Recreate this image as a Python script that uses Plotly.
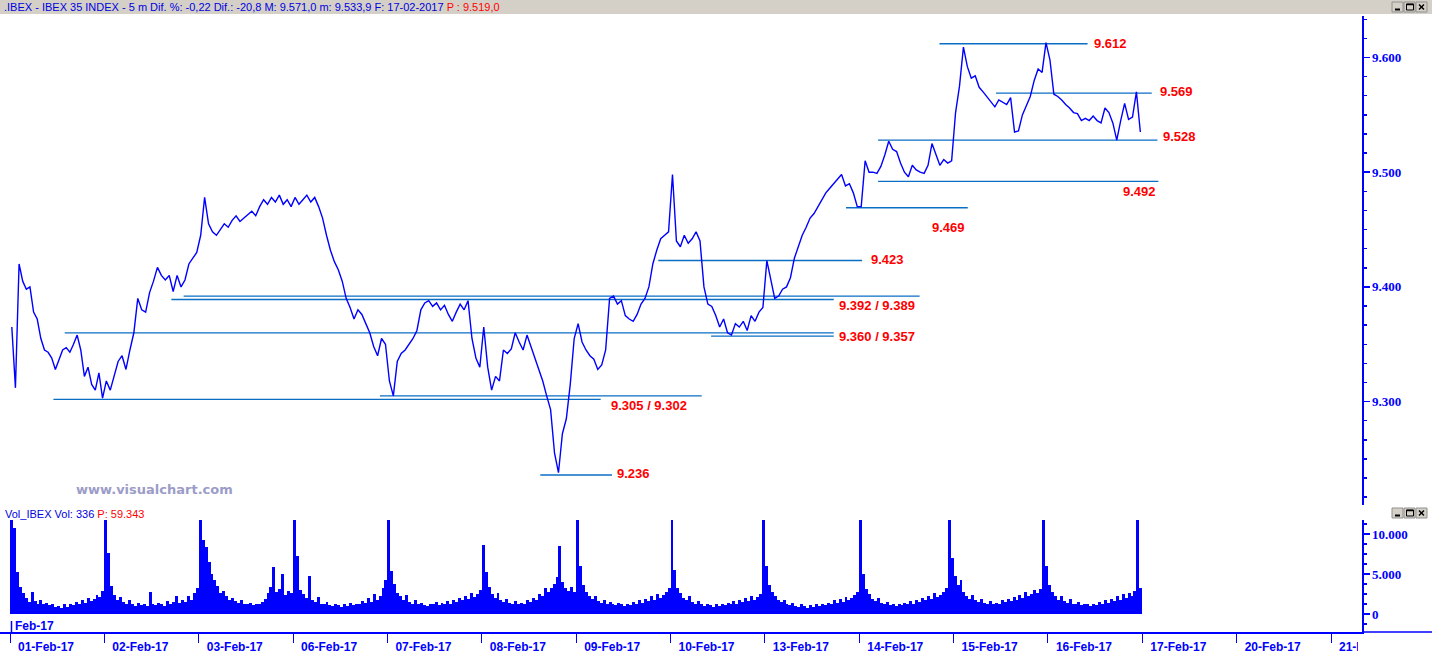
import plotly.graph_objects as go

W, H = 1432, 652

# ---------------- data ----------------
day_labels = ["01-Feb-17", "02-Feb-17", "03-Feb-17", "06-Feb-17", "07-Feb-17", "08-Feb-17",
              "09-Feb-17", "10-Feb-17", "13-Feb-17", "14-Feb-17", "15-Feb-17", "16-Feb-17",
              "17-Feb-17", "20-Feb-17", "21-Feb-17"]

price_01feb = [9.365, 9.312, 9.420, 9.405, 9.398, 9.400, 9.378, 9.372, 9.355, 9.345, 9.343, 9.338, 9.328,
               9.337, 9.345, 9.347, 9.343, 9.350, 9.358, 9.345, 9.322, 9.330, 9.315, 9.310, 9.325, 9.303]
price_02feb = [9.318, 9.310, 9.322, 9.335, 9.340, 9.328, 9.345, 9.360, 9.390, 9.380, 9.378, 9.395,
               9.405, 9.417, 9.410, 9.406, 9.410, 9.396, 9.410, 9.400, 9.406, 9.420, 9.425, 9.430]
price_03feb = [9.445, 9.478, 9.455, 9.448, 9.445, 9.450, 9.455, 9.452, 9.458, 9.462, 9.457, 9.460,
               9.463, 9.466, 9.462, 9.470, 9.476, 9.472, 9.478, 9.474, 9.480, 9.472, 9.476, 9.470]
price_06feb = [9.478, 9.472, 9.476, 9.480, 9.474, 9.478, 9.470, 9.460, 9.445, 9.432, 9.422, 9.415,
               9.405, 9.390, 9.382, 9.372, 9.380, 9.376, 9.368, 9.360, 9.348, 9.340, 9.355, 9.350]
price_07feb = [9.318, 9.305, 9.335, 9.342, 9.345, 9.350, 9.355, 9.362, 9.380, 9.386, 9.388, 9.383,
               9.386, 9.380, 9.384, 9.376, 9.370, 9.378, 9.385, 9.380, 9.388, 9.355, 9.338, 9.330]
price_08feb = [9.365, 9.330, 9.310, 9.322, 9.318, 9.345, 9.342, 9.346, 9.360, 9.352, 9.345, 9.358,
               9.348, 9.338, 9.328, 9.318, 9.305, 9.293, 9.255, 9.238, 9.272, 9.285, 9.315, 9.355]
price_09feb = [9.368, 9.352, 9.345, 9.340, 9.337, 9.328, 9.332, 9.345, 9.390, 9.392, 9.385, 9.388,
               9.375, 9.372, 9.370, 9.376, 9.385, 9.390, 9.400, 9.420, 9.432, 9.442, 9.445, 9.448]
price_10feb = [9.498, 9.440, 9.435, 9.445, 9.438, 9.442, 9.448, 9.440, 9.400, 9.385, 9.383, 9.375,
               9.365, 9.372, 9.360, 9.358, 9.368, 9.365, 9.370, 9.362, 9.375, 9.370, 9.378, 9.382]
price_13feb = [9.423, 9.405, 9.390, 9.392, 9.398, 9.400, 9.408, 9.425, 9.435, 9.445, 9.452, 9.460,
               9.464, 9.470, 9.476, 9.482, 9.486, 9.490, 9.494, 9.498, 9.488, 9.490, 9.482, 9.470]
price_14feb = [9.470, 9.510, 9.500, 9.500, 9.499, 9.505, 9.515, 9.527, 9.520, 9.518, 9.508, 9.500,
               9.496, 9.506, 9.502, 9.500, 9.499, 9.506, 9.525, 9.515, 9.506, 9.511, 9.508, 9.510]
price_15feb = [9.552, 9.575, 9.609, 9.592, 9.582, 9.584, 9.574, 9.570, 9.566, 9.562, 9.557, 9.563,
               9.561, 9.559, 9.565, 9.535, 9.536, 9.550, 9.558, 9.566, 9.580, 9.590, 9.587, 9.613]
price_16feb = [9.598, 9.568, 9.566, 9.563, 9.559, 9.556, 9.552, 9.551, 9.545, 9.547, 9.545, 9.549,
               9.545, 9.543, 9.556, 9.552, 9.543, 9.528, 9.545, 9.560, 9.546, 9.548, 9.570, 9.535]

vol_01feb = [12500, 10700, 5300, 3400, 2600, 2000, 1500, 2700, 1600, 1300, 1800, 1200, 1400, 1100, 1300, 900,
             1000, 800, 1200, 900, 1300, 1100, 1500, 1200, 1700, 1400, 2000, 1600, 1900, 2400, 2100, 2900]
vol_02feb = [12500, 7600, 3500, 2400, 1800, 2100, 1500, 1300, 1700, 1200, 1000, 1400, 1100, 1300, 1000, 2800,
             1200, 1100, 1400, 1300, 1000, 1600, 1200, 1500, 2300, 1400, 1800, 1500, 2200, 1700, 2600, 3200]
vol_03feb = [12500, 9200, 8400, 6500, 5000, 4300, 3500, 2600, 2900, 2200, 1800, 2000, 1600, 1400, 1700, 1300,
             1200, 1400, 1100, 1300, 1200, 1500, 1900, 2600, 3400, 5900, 2800, 3100, 5000, 2400, 2900, 2600]
vol_06feb = [12500, 7300, 3000, 2500, 2000, 4800, 1800, 1500, 2100, 1300, 1200, 1500, 1100, 1000, 1300, 1100,
             900, 1200, 1000, 1400, 1100, 1300, 1200, 1600, 1400, 2000, 1500, 2500, 1800, 2200, 3300, 4200]
vol_07feb = [12500, 5400, 3800, 2600, 2200, 1800, 2400, 1500, 1300, 1700, 1200, 1400, 1100, 1000, 1300, 1200,
             1500, 1100, 1400, 1300, 1600, 1200, 1800, 1500, 2000, 1700, 2300, 1900, 2600, 2100, 2500, 3000]
vol_08feb = [8600, 5200, 3400, 2500, 2000, 2600, 1700, 1500, 1900, 1400, 1300, 1600, 1200, 1400, 1300, 1700,
             1500, 2000, 1800, 2500, 2200, 3200, 2800, 3300, 3800, 4600, 8500, 4000, 3200, 2900, 3400, 2700]
vol_09feb = [12500, 6000, 3600, 2800, 2200, 1900, 2300, 1600, 1400, 1800, 1300, 1500, 1200, 1100, 1400, 1200,
             1000, 1300, 1100, 1500, 1300, 1700, 1400, 1900, 1600, 2200, 1800, 2500, 2000, 2400, 2800, 3300]
vol_10feb = [12500, 5500, 3200, 2600, 2000, 1700, 2200, 1500, 1300, 1600, 1200, 1000, 1300, 1100, 900, 1200,
             1000, 1300, 1100, 1400, 1200, 1600, 1300, 1800, 1500, 2000, 1600, 2200, 1800, 2100, 2500, 12500]
vol_13feb = [6000, 3600, 2700, 2200, 1800, 1500, 1800, 1300, 1100, 1400, 1000, 900, 1200, 1000, 800, 1100,
             900, 1200, 1000, 1300, 1100, 1400, 1200, 1700, 1400, 1900, 1500, 2100, 1700, 2000, 2400, 2800]
vol_14feb = [12500, 5000, 3100, 2500, 1900, 1600, 2000, 1400, 1200, 1500, 1100, 1300, 1000, 1200, 1100, 1400,
             1200, 1600, 1300, 1800, 1500, 2000, 1700, 2300, 1900, 2600, 2100, 2400, 2800, 3200, 12500, 7000]
vol_15feb = [4800, 3600, 4200, 2800, 2300, 1900, 2400, 1700, 1500, 1900, 1400, 1300, 1600, 1200, 1400, 1300,
             1700, 1500, 1900, 1600, 2100, 1800, 2400, 2000, 2700, 2200, 2500, 3000, 2600, 3100, 12500, 6000]
vol_16feb = [3600, 2800, 2200, 1800, 2300, 1600, 1400, 1900, 1300, 1200, 1500, 1100, 1300, 1200, 1000, 1300,
             1100, 1500, 1200, 1700, 1400, 1900, 1600, 2200, 1800, 2500, 2000, 2600, 2300, 2900, 12500, 3200]

price_days = [price_01feb, price_02feb, price_03feb, price_06feb, price_07feb, price_08feb,
              price_09feb, price_10feb, price_13feb, price_14feb, price_15feb, price_16feb]
vol_days = [vol_01feb, vol_02feb, vol_03feb, vol_06feb, vol_07feb, vol_08feb,
            vol_09feb, vol_10feb, vol_13feb, vol_14feb, vol_15feb, vol_16feb]

# support / resistance levels (value, start day, end day)
level_values = [9.612, 9.569, 9.528, 9.492, 9.469, 9.423, 9.392, 9.389, 9.360, 9.357, 9.305, 9.302, 9.236]
level_start = [9.85, 10.45, 9.20, 9.20, 8.86, 6.87, 1.84, 1.71, 0.58, 7.43, 3.92, 0.46, 5.62]
level_end = [11.42, 12.10, 12.16, 12.17, 10.15, 9.03, 9.64, 8.73, 8.73, 8.73, 7.33, 6.26, 6.38]

label_texts = ["9.612", "9.569", "9.528", "9.492", "9.469", "9.423",
               "9.392 / 9.389", "9.360 / 9.357", "9.305 / 9.302", "9.236"]
label_x = [11.47, 12.17, 12.20, 11.77, 9.75, 9.10, 8.76, 8.76, 6.35, 6.41]
label_y = [9.612, 9.570, 9.531, 9.483, 9.452, 9.424, 9.384, 9.357, 9.297, 9.237]

price_ticks = [9.3, 9.4, 9.5, 9.6]
price_ticktext = ["9.300", "9.400", "9.500", "9.600"]
vol_ticks = [0, 5000, 10000]
vol_ticktext = ["0", "5.000", "10.000"]

# ---------------- build ----------------
BLUE = "#0000ff"
LEVEL = "#0a6ec4"
RED = "#ff0000"

px_x = []
px_y = []
for d, vals in enumerate(price_days):
    n = len(vals)
    for k, v in enumerate(vals):
        px_x.append(d + (k + 0.5) / n)
        px_y.append(v)

vx, vy = [], []
for d, vals in enumerate(vol_days):
    n = len(vals)
    for k, v in enumerate(vals):
        vx.append(d + (k + 0.5) / n)
        vy.append(v)

lx, ly = [], []
for v, s, e in zip(level_values, level_start, level_end):
    lx += [s, e, None]
    ly += [v, v, None]

fig = go.Figure()
fig.add_trace(go.Scatter(x=lx, y=ly, mode="lines", line=dict(color=LEVEL, width=1.3),
                         xaxis="x2", yaxis="y", hoverinfo="skip"))
fig.add_trace(go.Scatter(x=px_x, y=px_y, mode="lines", line=dict(color=BLUE, width=1.4),
                         xaxis="x2", yaxis="y"))
fig.add_trace(go.Bar(x=vx, y=vy, width=1 / 32, marker=dict(color=BLUE, line=dict(width=0)),
                     xaxis="x", yaxis="y2"))

def fx(p):
    return p / W

def fy(p):
    return 1 - p / H

x_per_day = 94.36
x_lo = -10 / x_per_day
x_hi = (1362 - 10) / x_per_day
p_per_px = 1 / 1147
y_lo = 9.6 - (505 - 57.5) * p_per_px
y_hi = 9.6 + (57.5 - 16) * p_per_px

axis_font = dict(family="Liberation Serif", size=13, color=BLUE, weight="bold")

fig.update_layout(
    width=W, height=H, margin=dict(l=0, r=0, t=0, b=0, autoexpand=False),
    paper_bgcolor="white", plot_bgcolor="white", showlegend=False, bargap=0,
    dragmode=False,
    xaxis=dict(domain=[0, fx(1362)], range=[x_lo, x_hi], anchor="y2", fixedrange=True,
               automargin=False,
               tickmode="array", tickvals=list(range(len(day_labels))), ticktext=day_labels,
               ticks="outside", ticklen=9, tickcolor=BLUE, tickwidth=1,
               showline=True, linecolor=BLUE, linewidth=1.5, showgrid=False, zeroline=False,
               tickfont=dict(family="Liberation Sans", size=12, color=BLUE, weight="bold"),
               ticklabelshift=36, ticklabelstandoff=-6),
    xaxis2=dict(matches="x", anchor="y", visible=False, domain=[0, fx(1362)], fixedrange=True,
                automargin=False),
    yaxis=dict(domain=[fy(505), fy(16)], range=[y_lo, y_hi], side="right", anchor="x2",
               fixedrange=True, automargin=False,
               tickmode="array", tickvals=price_ticks, ticktext=price_ticktext,
               ticks="outside", ticklen=6, tickcolor=BLUE, tickwidth=1.5,
               showline=True, linecolor=BLUE, linewidth=1.5, showgrid=False, zeroline=False,
               tickfont=axis_font,
               minor=dict(tickmode="linear", tick0=9.3, dtick=0.1 / 6, ticks="outside",
                          ticklen=3, tickcolor=BLUE, tickwidth=1.5, showgrid=False)),
    yaxis2=dict(domain=[fy(632), fy(520)], range=[-2250, 11750], side="right", anchor="x",
                fixedrange=True, automargin=False,
                tickmode="array", tickvals=vol_ticks, ticktext=vol_ticktext,
                ticks="outside", ticklen=6, tickcolor=BLUE, tickwidth=1.5,
                showline=True, linecolor=BLUE, linewidth=1.5, showgrid=False, zeroline=False,
                tickfont=axis_font,
                minor=dict(tickmode="linear", tick0=0, dtick=1250, ticks="outside",
                           ticklen=3, tickcolor=BLUE, tickwidth=1.5, showgrid=False)),
)

shapes = [
    dict(type="rect", xref="paper", yref="paper", x0=0, x1=1, y0=fy(14), y1=1,
         fillcolor="#d4d0c8", line=dict(width=0), layer="below"),
    dict(type="line", xref="paper", yref="paper", x0=fx(1362), x1=1, y0=fy(632), y1=fy(632),
         line=dict(color=BLUE, width=1.5)),
    dict(type="rect", xref="paper", yref="paper", x0=fx(1358), x1=1, y0=0, y1=fy(634),
         fillcolor="white", line=dict(width=0), layer="above"),
    dict(type="line", xref="paper", yref="paper", x0=fx(11.5), x1=fx(11.5), y0=fy(632), y1=fy(621),
         line=dict(color=BLUE, width=1.5)),
]

def buttons(top):
    out = []
    for x0 in [1392, 1404, 1416]:
        out.append(dict(type="rect", xref="paper", yref="paper", x0=fx(x0), x1=fx(x0 + 11),
                        y0=fy(top + 10), y1=fy(top), fillcolor="#d4d0c8",
                        line=dict(color="#909090", width=1)))
    out.append(dict(type="line", xref="paper", yref="paper", x0=fx(1395), x1=fx(1400),
                    y0=fy(top + 7.5), y1=fy(top + 7.5), line=dict(color="black", width=2)))
    out.append(dict(type="rect", xref="paper", yref="paper", x0=fx(1406.5), x1=fx(1413.5),
                    y0=fy(top + 8), y1=fy(top + 2), line=dict(color="black", width=1)))
    out.append(dict(type="line", xref="paper", yref="paper", x0=fx(1406.5), x1=fx(1413.5),
                    y0=fy(top + 2.5), y1=fy(top + 2.5), line=dict(color="black", width=1.5)))
    out.append(dict(type="line", xref="paper", yref="paper", x0=fx(1419), x1=fx(1424),
                    y0=fy(top + 2.5), y1=fy(top + 7.5), line=dict(color="black", width=1.5)))
    out.append(dict(type="line", xref="paper", yref="paper", x0=fx(1419), x1=fx(1424),
                    y0=fy(top + 7.5), y1=fy(top + 2.5), line=dict(color="black", width=1.5)))
    return out

shapes += buttons(2) + buttons(508)
fig.update_layout(shapes=shapes)

ann = [
    dict(xref="paper", yref="paper", x=fx(2), y=fy(7.5), xanchor="left", yanchor="middle",
         showarrow=False, font=dict(family="Liberation Sans", size=11, color="#0000e0"),
         text=".IBEX - IBEX 35 INDEX - 5 m Dif. %: -0,22 Dif.: -20,8 M: 9.571,0 m: 9.533,9 "
              "F: 17-02-2017 <span style='color:#ff0000'>P : 9.519,0</span>"),
    dict(xref="paper", yref="paper", x=fx(3), y=fy(514), xanchor="left", yanchor="middle",
         showarrow=False, font=dict(family="Liberation Sans", size=11, color="#0000e0"),
         text="Vol_IBEX Vol: 336 <span style='color:#ff0000'>P: 59.343</span>"),
    dict(xref="paper", yref="paper", x=fx(74), y=fy(489), xanchor="left", yanchor="middle",
         showarrow=False, font=dict(family="DejaVu Sans", size=13, color="#9c9cc8", weight="bold"),
         text="www.visualchart.com"),
    dict(xref="paper", yref="paper", x=fx(13), y=fy(625.5), xanchor="left", yanchor="middle",
         showarrow=False, font=dict(family="Liberation Sans", size=12, color=BLUE, weight="bold"),
         text="Feb-17"),
]
for t, x, y in zip(label_texts, label_x, label_y):
    ann.append(dict(xref="x2", yref="y", x=x, y=y, xanchor="left", yanchor="middle",
                    showarrow=False, text=t,
                    font=dict(family="Liberation Sans", size=13, color=RED, weight="bold")))
fig.update_layout(annotations=ann)

fig.write_html("out.html", config={"displayModeBar": False, "staticPlot": True},
               post_script="document.body.style.margin='0';document.body.style.padding='0';"
                           "document.body.style.overflow='hidden';")
